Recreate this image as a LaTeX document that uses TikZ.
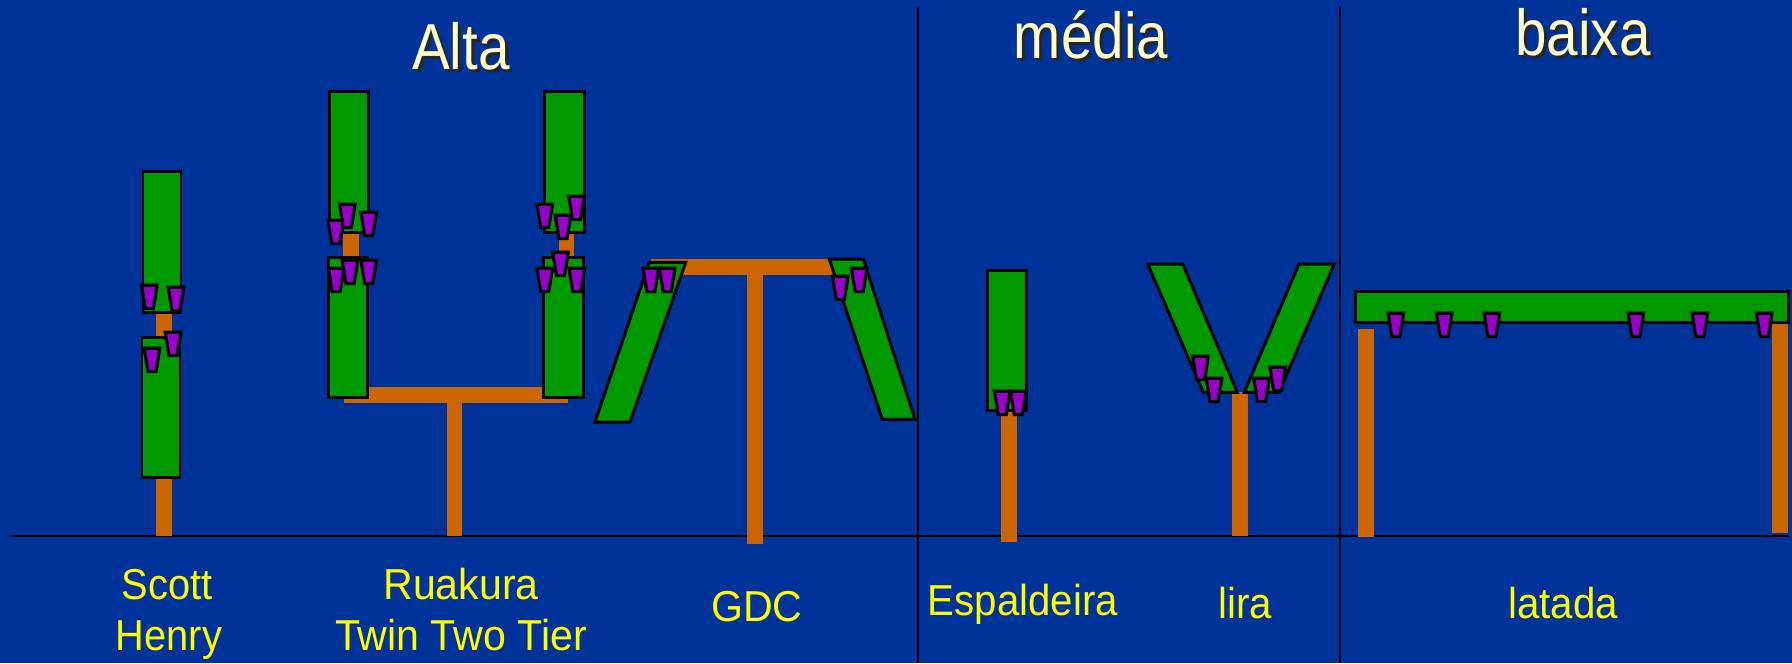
\documentclass[tikz,border=0pt]{standalone}
\usepackage{fontspec}
\usepackage{graphicx}
\setmainfont{Liberation Sans}
\definecolor{sky}{HTML}{003399}
\definecolor{leaf}{HTML}{009900}
\definecolor{vine}{HTML}{CC6600}
\definecolor{berry}{HTML}{9900CC}
\definecolor{cream}{HTML}{FFFFCC}
\definecolor{tag}{HTML}{FFFF00}
\begin{document}
\begin{tikzpicture}[x=0.01cm,y=-0.01cm,
  wood/.style={fill=vine},
  canopy/.style={fill=leaf,draw=black,line width=0.85pt,line join=miter},
  grape/.style={fill=berry,draw=black,line width=0.9pt,line join=miter},
  rule/.style={draw=black,line width=0.65pt},
  headtxt/.style={font=\fontsize{18.5pt}{22pt}\selectfont,text=cream,anchor=base,inner sep=0pt},
  headshadow/.style={font=\fontsize{18.5pt}{22pt}\selectfont,text=black!85,anchor=base,inner sep=0pt},
  labeltxt/.style={font=\fontsize{12.3pt}{15pt}\selectfont,text=tag,anchor=base,inner sep=0pt},
  bunch/.pic={\path[grape] (-7.8,1.3) -- (7.8,1.3) -- (4,24.6) -- (-4,24.6) -- cycle;}]
% background
\fill[sky] (0,0) rectangle (1792,663);
\useasboundingbox (0,0) rectangle (1792,663);

% ground and section dividers
\draw[rule] (11,536) -- (1789,536);
\draw[rule] (918,7) -- (918,663);
\draw[rule] (1340,7) -- (1340,663);

% ---- Scott Henry ----
\fill[wood] (156,300) rectangle (172,536);
\path[canopy] (143,171) rectangle (181,312);
\path[canopy] (142,337) rectangle (180,477);
\foreach \cx/\ty in {149.3/284,176/286,173/331,152/347}
  \pic at (\cx,\ty) {bunch};

% ---- Ruakura Twin Two Tier ----
\fill[wood] (344,387) rectangle (568,403);
\fill[wood] (446.7,400) rectangle (462.3,536);
\fill[wood] (343.3,225) rectangle (359,390);
\fill[wood] (558.7,225) rectangle (574,390);
\path[canopy] (329,91) rectangle (368.7,232);
\path[canopy] (328,257) rectangle (367.3,397.7);
\path[canopy] (544.7,91) rectangle (584,232);
\path[canopy] (543.3,257) rectangle (583.3,397.7);
\foreach \cx/\ty in {335.8/219,347.3/203,368.7/211,336.2/267,350/259,368.7/259,
                     544.7/203,576.5/195,563/214,544.7/267,560.5/251,576.8/267}
  \pic at (\cx,\ty) {bunch};

% ---- GDC ----
\fill[wood] (651,259.3) rectangle (833,275);
\fill[wood] (747.3,270) rectangle (763.3,544.3);
\path[canopy] (649.3,262.3) -- (685.7,262.3) -- (630,422) -- (595,422) -- cycle;
\path[canopy] (829.3,259) -- (863.3,259) -- (915,419.3) -- (882.3,419.3) -- cycle;
\foreach \cx/\ty in {650.8/267,667.2/267,840.3/275,859.2/267}
  \pic at (\cx,\ty) {bunch};

% ---- Espaldeira ----
\fill[wood] (1001.3,400) rectangle (1017,541.7);
\path[canopy] (987.7,270) rectangle (1026.7,410.7);
\foreach \cx/\ty in {1002.2/390,1018.3/390}
  \pic at (\cx,\ty) {bunch};

% ---- Lira ----
\fill[wood] (1232.3,392.3) rectangle (1248.3,536);
\path[canopy] (1147.7,264) -- (1182.7,264) -- (1237.3,392.3) -- (1203.3,392.3) -- cycle;
\path[canopy] (1299,264) -- (1334.3,264) -- (1279,392.3) -- (1244.3,392.3) -- cycle;
\foreach \cx/\ty in {1200.5/355,1214/377,1261.5/377,1277.7/366}
  \pic at (\cx,\ty) {bunch};

% ---- Latada ----
\fill[wood] (1358,328.7) rectangle (1374,536.7);
\fill[wood] (1772,324.3) rectangle (1787.7,532.7);
\path[canopy] (1355.7,291) rectangle (1788.3,322.3);
\foreach \cx in {1395.8,1444.2,1491.8,1635.8,1699.8,1764.2}
  \pic at (\cx,312) {bunch};

% ---- section headings ----
\node[headshadow] (altaS)  at (464,72) {\scalebox{0.87}[1]{Alta}};
\node[headtxt]    (alta)   at (461,69) {\scalebox{0.87}[1]{Alta}};
\node[headshadow] (mediaS) at (1094,61) {\scalebox{0.87}[1]{média}};
\node[headtxt]    (media)  at (1091,58) {\scalebox{0.87}[1]{média}};
\node[headshadow] (baixaS) at (1586,58) {\scalebox{0.87}[1]{baixa}};
\node[headtxt]    (baixa)  at (1583,55) {\scalebox{0.87}[1]{baixa}};

% ---- system names ----
\node[labeltxt] (scott)  at (167,599)  {\scalebox{0.92}[1]{Scott}};
\node[labeltxt] (henry)  at (169,650)  {\scalebox{0.92}[1]{Henry}};
\node[labeltxt] (ruak)   at (461,599)  {\scalebox{0.95}[1]{Ruakura}};
\node[labeltxt] (twin)   at (461,650)  {\scalebox{0.95}[1]{Twin Two Tier}};
\node[labeltxt] (gdc)    at (757,621)  {\scalebox{0.95}[1]{GDC}};
\node[labeltxt] (espal)  at (1023,615) {\scalebox{0.93}[1]{Espaldeira}};
\node[labeltxt] (lira)   at (1245,618) {\scalebox{0.93}[1]{lira}};
\node[labeltxt] (latada) at (1563,618) {\scalebox{0.93}[1]{latada}};
\end{tikzpicture}
\end{document}
